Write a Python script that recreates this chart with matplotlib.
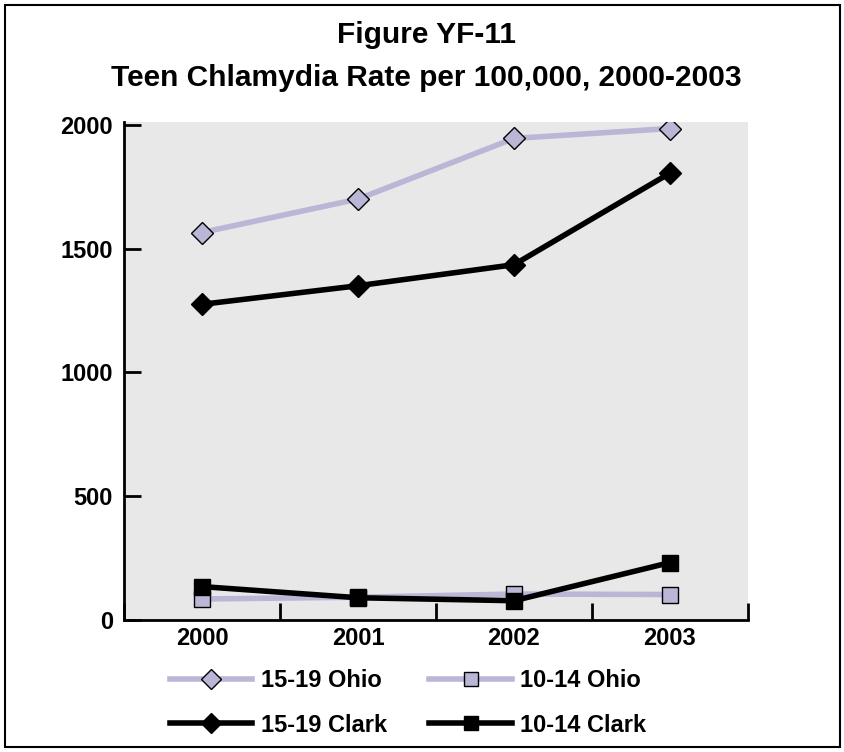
import numpy as np
import matplotlib.pyplot as plt
from matplotlib.patches import Rectangle

plt.rcParams['font.family'] = ['Liberation Sans', 'DejaVu Sans']
plt.rcParams['font.weight'] = 'bold'

years = ["2000", "2001", "2002", "2003"]
ohio_15_19 = [1565, 1700, 1945, 1985]
ohio_10_14 = [85, 92, 105, 103]
clark_15_19 = [1275, 1350, 1435, 1805]
clark_10_14 = [135, 90, 78, 232]

lilac = "#b9b6d6"
x = np.arange(len(years))

fig = plt.figure(figsize=(8.45, 7.52), dpi=100)
ax = fig.add_axes([0.1467, 0.1755, 0.7385, 0.6625])
ax.set_facecolor("#e8e8e8")

l1, = ax.plot(x, ohio_15_19, color=lilac, lw=4, marker="D", ms=11,
              mfc=lilac, mec="black", mew=1, zorder=2)
l2, = ax.plot(x, ohio_10_14, color=lilac, lw=4, marker="s", ms=11,
              mfc=lilac, mec="black", mew=1, zorder=2)
l3, = ax.plot(x, clark_15_19, color="black", lw=4, marker="D", ms=11,
              mfc="black", mec="black", zorder=3)
l4, = ax.plot(x, clark_10_14, color="black", lw=4, marker="s", ms=11,
              mfc="black", mec="black", zorder=3)

ax.set_xlim(-0.5, 3.5)
ax.set_ylim(0, 2012)
ax.set_yticks([0, 500, 1000, 1500, 2000])
ax.set_xticks(x)
ax.set_xticklabels(years)
ax.set_xticks(np.arange(-0.5, 3.6, 1), minor=True)
ax.tick_params(axis="x", which="major", length=0, pad=5, labelsize=17)
ax.tick_params(axis="x", which="minor", direction="in", length=12, width=2)
ax.tick_params(axis="y", direction="in", length=12, width=2, labelsize=17, pad=8)
for lab in ax.get_xticklabels() + ax.get_yticklabels():
    lab.set_fontweight("bold")
for s in ["top", "right"]:
    ax.spines[s].set_visible(False)
for s in ["left", "bottom"]:
    ax.spines[s].set_linewidth(2)

fig.suptitle("Figure YF-11\nTeen Chlamydia Rate per 100,000, 2000-2003",
             x=0.505, y=0.972, va="top", fontsize=21.5, fontweight="bold",
             linespacing=1.68)

fig.legend(handles=[l1, l3, l2, l4],
           labels=["15-19 Ohio", "15-19 Clark", "10-14 Ohio", "10-14 Clark"],
           ncol=2, loc="upper left", bbox_to_anchor=(0.201, 0.11),
           borderpad=0, borderaxespad=0,
           frameon=False, handlelength=3.5, handletextpad=0.35, columnspacing=1.8,
           labelspacing=0.9, markerscale=0.9,
           prop={"weight": "bold", "size": 17})

fig.add_artist(Rectangle((0.006, 0.006), 0.988, 0.988, transform=fig.transFigure,
                         fill=False, lw=1.5, ec="black"))

plt.savefig("out.png", dpi=100)
